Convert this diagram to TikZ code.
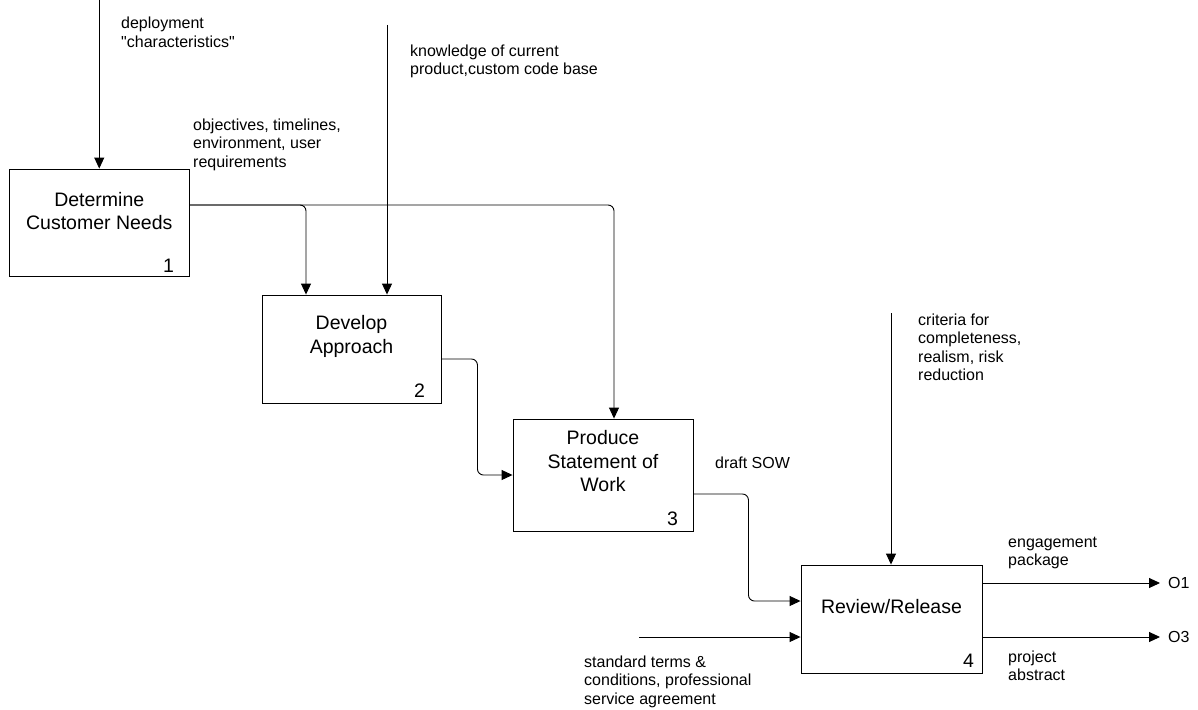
\documentclass[tikz,border=0pt]{standalone}
\usepackage{fontspec}
\setmainfont{Liberation Sans}[Ligatures=TeXOff]
\usetikzlibrary{arrows.meta}
\begin{document}
\begin{tikzpicture}[x=1pt,y=-1pt,
  box/.style={draw, line width=0.9pt, inner sep=0pt},
  boxtext/.style={font=\fontsize{19.5}{23.5}\selectfont, align=center, inner sep=0pt},
  num/.style={font=\fontsize{19.5}{23.5}\selectfont, inner sep=0pt},
  lbl/.style={font=\fontsize{16}{18.5}\selectfont, align=left, anchor=base west, inner sep=0pt},
  flow/.style={-{Triangle[length=11pt,width=10pt]}, line width=0.9pt, rounded corners=6pt}]
\useasboundingbox (0,0) rectangle (1198,709);

% boxes
\node[box, minimum width=179.5pt, minimum height=107pt] (b1) at (99.25,222.5) {};
\node[box, minimum width=179pt, minimum height=108pt] (b2) at (351.5,349) {};
\node[box, minimum width=180pt, minimum height=112pt] (b3) at (603,475) {};
\node[box, minimum width=181pt, minimum height=108pt] (b4) at (891.5,619) {};

% box texts
\node[boxtext] (t1) at ([yshift=11.5pt]b1.center) {Determine\\Customer Needs};
\node[boxtext] (t2) at ([yshift=12.5pt]b2.center) {Develop\\Approach};
\node[boxtext] (t3) at ([yshift=13.5pt]b3.center) {Produce\\Statement of\\Work};
\node[boxtext] (t4) at ([yshift=12pt]b4.center) {Review/Release};

% numbers
\node[num] (n1) at ([xshift=-21pt,yshift=11pt]b1.south east) {1};
\node[num] (n2) at ([xshift=-22pt,yshift=13pt]b2.south east) {2};
\node[num] (n3) at ([xshift=-21pt,yshift=13pt]b3.south east) {3};
\node[num] (n4) at ([xshift=-14pt,yshift=13pt]b4.south east) {4};

% free ends
\coordinate (inDeploy) at (99.25,0);
\coordinate (inKnow) at (387,25);
\coordinate (inCrit) at (891,313);
\coordinate (inStd) at (639,637);
\coordinate (outO1) at (1160,583);
\coordinate (outO3) at (1160,637);

% connectors
\draw[flow] (inDeploy) -- (inDeploy |- b1.north);
\draw[flow] ([yshift=17.5pt]b1.east) -| ([xshift=-45.5pt]b2.north);
\draw[flow] ([yshift=17.5pt]b1.east) -| ([xshift=11pt]b3.north);
\draw[flow] (inKnow) -- (inKnow |- b2.north);
\draw[flow] ([yshift=-10pt]b2.east) -- ++(36,0) |- (b3.west);
\draw[flow] ([yshift=-19pt]b3.east) -- ++(55,0) |- ([yshift=18pt]b4.west);
\draw[flow] (inCrit) -- (inCrit |- b4.north);
\draw[flow] (inStd) -- (inStd -| b4.west);
\draw[flow] ([yshift=36pt]b4.east) -- (outO1);
\draw[flow] ([yshift=-18pt]b4.east) -- (outO3);

% output names
\node[lbl, anchor=west] (o1) at ([xshift=8pt]outO1) {O1};
\node[lbl, anchor=west] (o3) at ([xshift=8pt]outO3) {O3};

% labels (anchored at the baseline of their last line)
\node[lbl] (lDeploy) at (121,47.5) {deployment\\"characteristics"};
\node[lbl] (lObj) at (193,167) {objectives, timelines,\\environment, user\\requirements};
\node[lbl] (lKnow) at (410,74.5) {knowledge of current\\product,custom code base};
\node[lbl] (lCrit) at (918,380.5) {criteria for\\completeness,\\realism, risk\\reduction};
\node[lbl] (lSow) at (715,468) {draft SOW};
\node[lbl] (lEng) at (1008,565.5) {engagement\\package};
\node[lbl] (lProj) at (1008,680.5) {project\\abstract};
\node[lbl] (lStd) at (584,704) {standard terms \&\\conditions, professional\\service agreement};
\end{tikzpicture}
\end{document}
